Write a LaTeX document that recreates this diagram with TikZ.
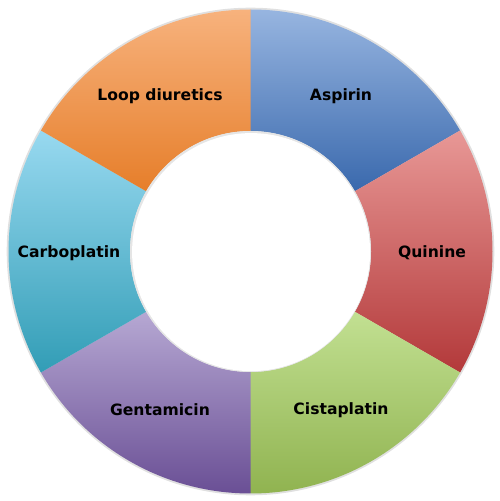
\documentclass[tikz,border=0pt]{standalone}
\usepackage{fontspec}
\setmainfont{DejaVu Sans}
\definecolor{bluetop}{HTML}{97B5E0}
\definecolor{bluebot}{HTML}{3A69AD}
\definecolor{redtop}{HTML}{E89896}
\definecolor{redbot}{HTML}{B3393A}
\definecolor{greentop}{HTML}{C2E092}
\definecolor{greenbot}{HTML}{90B350}
\definecolor{purptop}{HTML}{B6A8D3}
\definecolor{purpbot}{HTML}{6A4F95}
\definecolor{cyantop}{HTML}{98D9F0}
\definecolor{cyanbot}{HTML}{329DB6}
\definecolor{orgtop}{HTML}{F7B27D}
\definecolor{orgbot}{HTML}{E67E2A}
\tikzset{lab/.style={font=\fontsize{15.6}{18}\selectfont\bfseries, text=black}}
\newcommand{\seg}[4]{%
  \shade[top color=#3, bottom color=#4] (#1:242pt) arc[start angle=#1, end angle=#2, radius=242pt]
    -- (#2:120.5pt) arc[start angle=#2, end angle=#1, radius=120.5pt] -- cycle;}
\begin{document}
\begin{tikzpicture}[x=1pt,y=1pt]
\useasboundingbox (0,0) rectangle (500,501);
\begin{scope}[shift={(250.5,249.5)}]
  \fill[black!12] (0,0) circle[radius=243.8pt];
  \seg{90}{30}{bluetop}{bluebot}
  \seg{30}{-30}{redtop}{redbot}
  \seg{-30}{-90}{greentop}{greenbot}
  \seg{-90}{-150}{purptop}{purpbot}
  \seg{-150}{-210}{cyantop}{cyanbot}
  \seg{150}{90}{orgtop}{orgbot}
  \fill[black!10] (0,0) circle[radius=120.5pt];
  \fill[white] (0.6,-0.6) circle[radius=119pt];
\end{scope}
\node[lab] (aspirin) at (341,405) {Aspirin};
\node[lab] (loop) at (160,405) {Loop diuretics};
\node[lab] (quinine) at (432,248) {Quinine};
\node[lab] (carbo) at (69,248) {Carboplatin};
\node[lab] (cista) at (341,91) {Cistaplatin};
\node[lab] (genta) at (160,91) {Gentamicin};
\end{tikzpicture}
\end{document}
